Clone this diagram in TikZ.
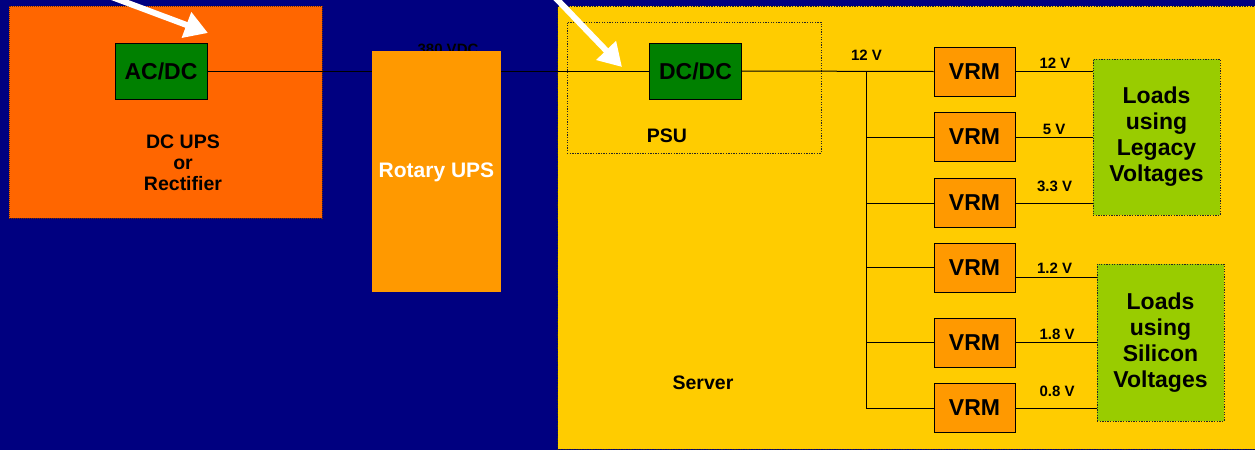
\documentclass[tikz,border=0pt]{standalone}
\usepackage{fontspec}
\setmainfont{Liberation Sans}
\usetikzlibrary{arrows.meta}

\definecolor{navybg}{HTML}{000080}
\definecolor{upsorange}{HTML}{FF6600}
\definecolor{convgreen}{HTML}{008000}
\definecolor{amber}{HTML}{FF9900}
\definecolor{serveryellow}{HTML}{FFCC00}
\definecolor{loadgreen}{HTML}{99CC00}

\begin{document}
\begin{tikzpicture}[x=1pt,y=-1pt,
  bigtxt/.style={font=\fontsize{23}{26}\selectfont\bfseries},
  midtxt/.style={font=\fontsize{19.5}{21}\selectfont\bfseries},
  smalltxt/.style={font=\fontsize{15}{17}\selectfont\bfseries},
  dotborder/.style={draw=black!85, line width=1pt, dash pattern=on 1.3pt off 1.3pt},
  region/.style={anchor=north west, inner sep=0pt, outer sep=0pt},
  converter/.style={draw=black, line width=1pt, fill=convgreen, bigtxt,
    minimum width=92pt, minimum height=56pt, inner sep=0pt},
  vrmbox/.style={draw=black, line width=1pt, fill=amber, bigtxt,
    minimum width=81pt, minimum height=49pt, inner sep=0pt},
  loadbox/.style={dotborder, fill=loadgreen, bigtxt, align=center,
    minimum width=127pt, minimum height=156pt, inner sep=0pt},
  wire/.style={draw=black, line width=1pt},
  whitearrow/.style={draw=white, line width=6pt, -{Triangle[length=23pt,width=26pt]}}
]
\useasboundingbox (0,0) rectangle (1255,450);
\fill[navybg] (0,0) rectangle (1255,450);

% large coloured areas
\node[region, dotborder, fill=serveryellow, minimum width=705pt, minimum height=443pt] (server) at (557.5,6) {};
\node[region, draw=black!55!upsorange, line width=0.7pt, dash pattern=on 1pt off 1pt,
      fill=upsorange, minimum width=313pt, minimum height=212pt] (dcups) at (9,6) {};
\node[region, dotborder, minimum width=254pt, minimum height=131pt] (psu) at (567,22) {};

% 380 V DC label, partly covered by the rotary UPS
\node[smalltxt] (vdc) at (448,49) {380 VDC};

% converters
\node[converter] (acdc) at (161,71) {AC/DC};
\node[converter] (dcdc) at (695.5,71) {DC/DC};

% 380 V DC bus
\draw[wire] (acdc.east) -- (dcdc.west);

% rotary UPS on the bus
\node[region, fill=amber, minimum width=129pt, minimum height=241pt] (rotary) at (372,51) {};
\node[text=white, font=\fontsize{21}{24}\selectfont\bfseries] (rotarylbl) at (436.5,172) {Rotary UPS};

% area labels
\node[midtxt, align=center] (dcupslbl) at (183,163) {DC UPS\\or\\Rectifier};
\node[midtxt] (psulbl) at (667,136) {PSU};
\node[midtxt] (serverlbl) at (703,383) {Server};

% voltage regulator modules
\node[vrmbox] (v1) at (974.5,71.5) {VRM};
\node[vrmbox] (v2) at (974.5,137) {VRM};
\node[vrmbox] (v3) at (974.5,203) {VRM};
\node[vrmbox] (v4) at (974.5,267.5) {VRM};
\node[vrmbox] (v5) at (974.5,342.5) {VRM};
\node[vrmbox] (v6) at (974.5,408) {VRM};

% loads
\node[loadbox] (legacy) at (1156.5,137) {Loads\\using\\Legacy\\Voltages};
\node[loadbox, minimum height=157pt] (silicon) at (1160.5,342.5) {Loads\\using\\Silicon\\Voltages};

% 12 V distribution
\coordinate (bustop) at (866,71);
\coordinate (busbot) at (866,408);
\draw[wire] (dcdc.east) -- (v1.west);
\draw[wire] (bustop) -- (busbot);
\foreach \v in {v2,v3,v4,v5,v6}{
  \draw[wire] (\v.west -| bustop) -- (\v.west);
}
\node[smalltxt] (l12in) at (866.5,55) {12 V};

% regulated outputs
\draw[wire] (v1.east) -- (v1.east -| legacy.west);
\draw[wire] (v2.east) -- (v2.east -| legacy.west);
\draw[wire] (v3.east) -- (v3.east -| legacy.west);
\draw[wire] ([yshift=-9.5pt]v4.east) -- ([yshift=-9.5pt]v4.east -| silicon.west);
\draw[wire] (v5.east) -- (v5.east -| silicon.west);
\draw[wire] (v6.east) -- (v6.east -| silicon.west);

\node[smalltxt] (l12) at (1055,63) {12 V};
\node[smalltxt] (l5) at (1054,129) {5 V};
\node[smalltxt] (l33) at (1054.5,186) {3.3 V};
\node[smalltxt] (l12b) at (1054.5,268) {1.2 V};
\node[smalltxt] (l18) at (1057,334) {1.8 V};
\node[smalltxt] (l08) at (1057,391) {0.8 V};

% pointers
\coordinate (a1tail) at (93,-10);
\coordinate (a1tip) at (208,33);
\coordinate (a2tail) at (548,-10);
\coordinate (a2tip) at (622,67);
\begin{scope}
\clip (0,0) rectangle (1255,450);
\draw[whitearrow] (a1tail) -- (a1tip);
\draw[whitearrow] (a2tail) -- (a2tip);
\end{scope}
\end{tikzpicture}
\end{document}
